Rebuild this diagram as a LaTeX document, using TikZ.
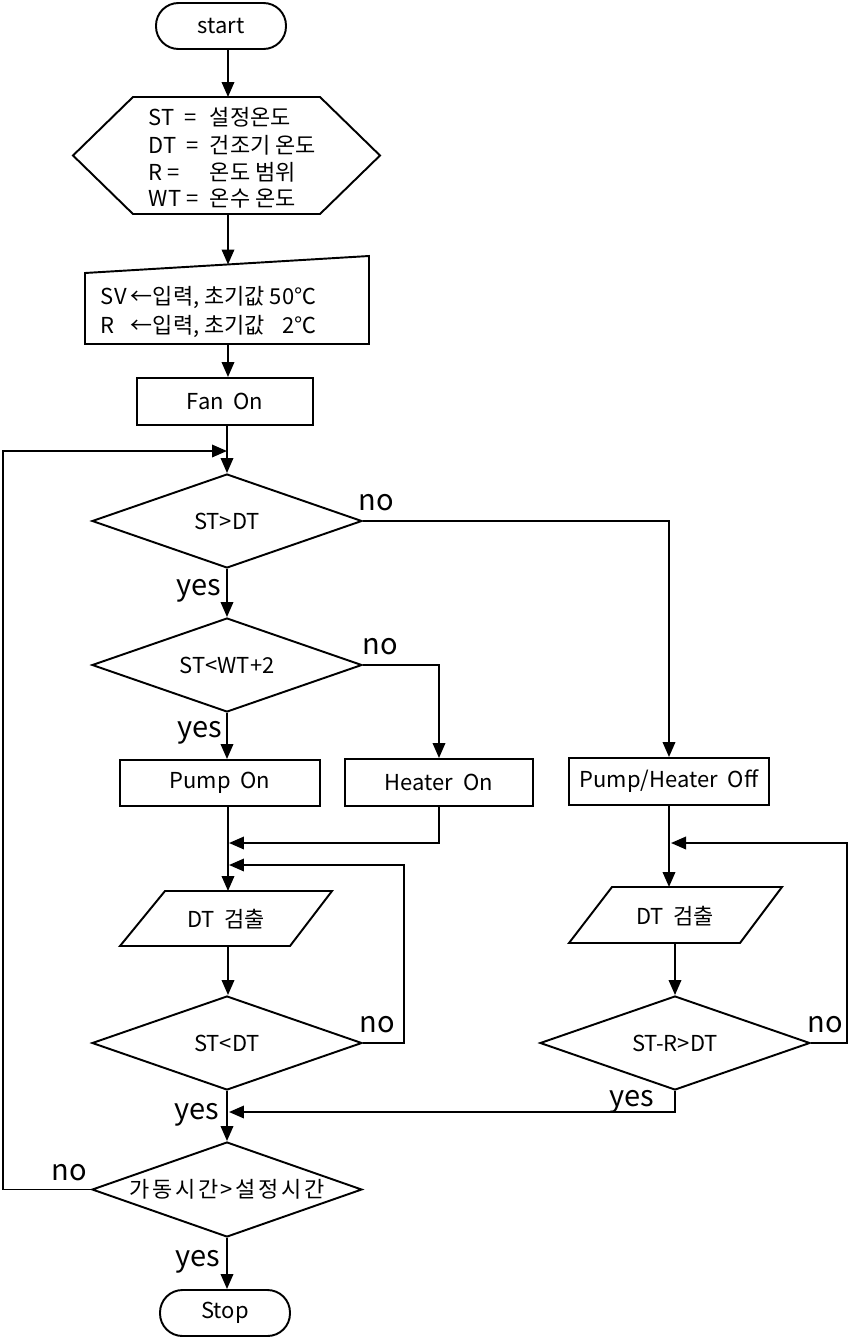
\documentclass[tikz,border=0pt]{standalone}
\usepackage{fontspec}
\setmainfont{Noto Sans CJK KR}
\usetikzlibrary{arrows.meta,calc,shapes.geometric}
\newcommand\fsz{\fontsize{12.5}{14}\selectfont}
\begin{document}
\begin{tikzpicture}[x=0.02cm,y=-0.02cm, line width=1.1pt,
  arr/.style={-{Triangle[length=0.3cm,width=0.25cm]}},
  box/.style={draw, rectangle, font=\fsz, inner sep=0pt},
  dec/.style={draw, diamond, aspect=2.87, inner sep=0pt, font=\fsz, minimum width=5.4cm, minimum height=1.88cm},
  term/.style={draw, rectangle, rounded corners=0.45cm, font=\fsz, inner sep=0pt, minimum width=2.6cm, minimum height=0.92cm},
  lbl/.style={font=\fontsize{16.5}{18}\selectfont, inner sep=0pt, anchor=base},
  txt/.style={font=\fsz, inner sep=0pt, anchor=west}]
\useasboundingbox (0,0) rectangle (863,1339);

% start
\node[term] (start) at (221,26) {start};

% hexagon (preparation)
\draw (133,97) -- (320,97) -- (380,155.5) -- (320,214) -- (133,214) -- (73,155.5) -- cycle;
\coordinate (hexT) at (228,97);
\coordinate (hexB) at (228,214);
\node[txt] (h1) at (148,117) {\makebox[1.22cm][l]{ST\ \ =}설정온도};
\node[txt] (h2) at (148,145) {\makebox[1.22cm][l]{DT\ \ =}건조기 온도};
\node[txt] (h3) at (148,172) {\makebox[1.22cm][l]{R\ =}온도 범위};
\node[txt] (h4) at (148,199) {\makebox[1.22cm][l]{WT\ =}온수 온도};

% manual input
\draw (85,273) -- (369,256) -- (369,344) -- (85,344) -- cycle;
\coordinate (minT) at (228,264.5);
\coordinate (minB) at (228,344);
\node[txt] (m1t) at (100,297) {\makebox[0.6cm][l]{SV}←입력, 초기값 50℃};
\node[txt] (m2t) at (100,327) {\makebox[0.6cm][l]{R}←입력, 초기값 \phantom{5}2℃};

% Fan On
\node[box, minimum width=3.52cm, minimum height=0.94cm] (fan) at (225,401.5) {Fan\ \ On};

% decisions and boxes
\node[dec] (d1) at (227,521) {ST>DT};
\node[dec] (d2) at (227,665) {ST<WT+2};
\node[box, minimum width=4.0cm, minimum height=0.92cm] (pump) at (220,783) {Pump\ \ On};
\node[box, minimum width=3.76cm, minimum height=0.94cm] (heater) at (439,782.5) {Heater\ \ On};
\node[box, minimum width=4.0cm, minimum height=0.94cm] (off) at (669,781.5) {Pump/Heater\ \ Off};

% left parallelogram
\draw (165,891) -- (332,891) -- (290,946) -- (120,946) -- cycle;
\coordinate (p1T) at (228,891);
\coordinate (p1B) at (228,946);
\node[font=\fsz, inner sep=0pt] (p1) at (226,919) {DT\ \ 검출};

% right parallelogram
\draw (612,887) -- (782,887) -- (740,943) -- (569,943) -- cycle;
\coordinate (p2T) at (671,887);
\coordinate (p2B) at (675,943);
\node[font=\fsz, inner sep=0pt] (p2) at (675,916) {DT\ \ 검출};

\node[dec] (d3) at (227,1043) {ST<DT};
\node[dec] (d4) at (675,1043) {ST-R>DT};
\node[dec, minimum height=1.9cm] (d5) at (227,1189.5) {\addfontfeature{LetterSpace=12}가동시간>설정시간};
\node[term] (stop) at (225,1313) {Stop};

% helper coordinates
\coordinate (loopL) at (3,451);
\coordinate (loopE) at (227,451);
\coordinate (mg1) at (229,843);
\coordinate (mg2) at (229,865);
\coordinate (r3) at (404,865);
\coordinate (r4) at (847,843);
\coordinate (mg3) at (671,843);
\coordinate (mg4) at (229,1112);

% connectors
\draw[arr] (start.south -| hexT) -- (hexT);
\draw[arr] (hexB) -- (minT);
\draw[arr] (minB) -- (minB |- fan.north);
\draw[arr] (fan.south -| d1.north) -- (d1.north);
\draw[arr] (d5.west) -| (loopL) -- (loopE);
\draw[arr] (d1.east) -| (off.north);
\draw[arr] (d1.south) -- (d2.north);
\draw[arr] (d2.east) -| (heater.north);
\draw[arr] (d2.south) -- (d2.south |- pump.north);
\draw[arr] (pump.south -| p1T) -- (p1T);
\draw[arr] (heater.south) |- (mg1);
\draw[arr] (d3.east) -| (r3) -- (mg2);
\draw[arr] (p1B) -- (p1B |- d3.north);
\draw[arr] (d3.south) -- (d5.north);
\draw[arr] (off.south) -- (off.south |- p2T);
\draw[arr] (d4.east) -| (r4) -- (mg3);
\draw[arr] (p2B) -- (d4.north);
\draw[arr] (d4.south) |- (mg4);
\draw[arr] (d5.south) -- (d5.south |- stop.north);

% yes / no labels
\node[lbl] (n1) at (376,510) {no};
\node[lbl] (y1) at (199,595) {yes};
\node[lbl] (n2) at (380,654) {no};
\node[lbl] (y2) at (200,737) {yes};
\node[lbl] (n3) at (377,1032) {no};
\node[lbl] (y3) at (197,1119) {yes};
\node[lbl] (n4) at (825,1032) {no};
\node[lbl] (y4) at (632,1106) {yes};
\node[lbl] (n5) at (69,1180) {no};
\node[lbl] (y5) at (198,1266) {yes};
\end{tikzpicture}
\end{document}
